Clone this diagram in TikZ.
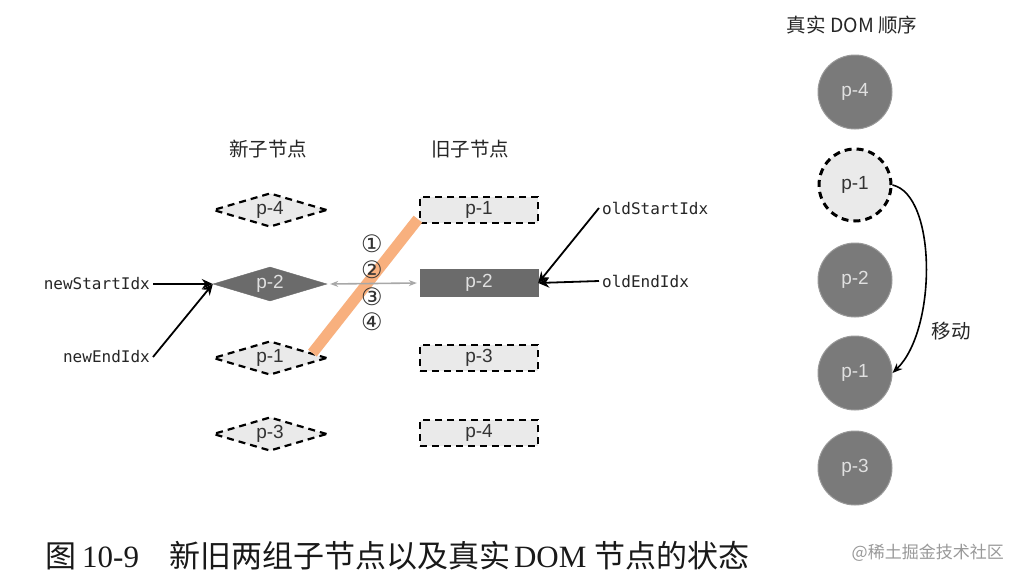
\documentclass[tikz,border=0pt]{standalone}
\usepackage{fontspec}
\setmainfont{Liberation Sans}
\newfontfamily\cjk{Noto Sans CJK SC}
\newfontfamily\monof{DejaVu Sans Mono}
\newfontfamily\dvs{DejaVu Sans}
\newfontfamily\serf{Liberation Serif}
\usetikzlibrary{shapes.geometric,arrows.meta,calc}
\definecolor{lightfill}{HTML}{EAEAEA}
\definecolor{darkfill}{HTML}{6B6B6B}
\definecolor{circfill}{HTML}{7A7A7A}
\definecolor{orangeline}{HTML}{F8B07E}
\definecolor{grayarrow}{HTML}{A8A8A8}
\definecolor{txtdark}{HTML}{333333}
\definecolor{txtlight}{HTML}{E0E0E0}
\tikzset{
  dashline/.style={draw=black, line width=2.2pt, dash pattern=on 7pt off 5pt},
  newdia/.style={diamond, inner sep=0pt, minimum width=114pt, minimum height=34pt, aspect=3.3,
     fill=lightfill, dashline, text=txtdark, font=\fontsize{19}{19}\selectfont},
  newdiadark/.style={diamond, inner sep=0pt, minimum width=114pt, minimum height=34pt, aspect=3.3,
     fill=darkfill, draw=darkfill, text=txtlight, font=\fontsize{19}{19}\selectfont},
  oldbox/.style={rectangle, inner sep=0pt, minimum width=118pt, minimum height=26pt,
     fill=lightfill, dashline, text=txtdark, font=\fontsize{19}{19}\selectfont},
  oldboxdark/.style={rectangle, inner sep=0pt, minimum width=118pt, minimum height=27pt,
     fill=darkfill, draw=darkfill, text=txtlight, font=\fontsize{19}{19}\selectfont},
  domcirc/.style={circle, inner sep=0pt, minimum size=74pt, fill=circfill, draw=gray!80,
     line width=1pt, text=txtlight, font=\fontsize{19}{19}\selectfont},
  domcircdash/.style={circle, inner sep=0pt, minimum size=72pt, fill=lightfill,
     draw=black, line width=3pt, dash pattern=on 7pt off 5pt, text=txtdark, font=\fontsize{19}{19}\selectfont},
  idxlabel/.style={inner sep=3pt, font=\monof\fontsize{16}{16}\selectfont, text=black!85},
  cjklabel/.style={inner sep=0pt, font=\cjk\fontsize{19.5}{19.5}\selectfont, text=black!85},
  idxarrow/.style={draw=black, line width=1.8pt, -{Stealth[length=11pt,width=10pt]}},
  circnum/.style={inner sep=0pt, font=\dvs\fontsize{24}{24}\selectfont, text=black!80},
}
\begin{document}
\begin{tikzpicture}[x=1pt,y=-1pt]
\useasboundingbox[fill=white] (0,0) rectangle (1018,581);

% headers
\node[cjklabel] (hnew) at (268,149) {新子节点};
\node[cjklabel] (hold) at (470,149) {旧子节点};
\node[cjklabel] (hdom) at (852,25) {真实 DOM 顺序};

% new children
\node[newdia] (n4) at (270,210) {p-4};
\node[newdiadark] (n2) at (270,284) {p-2};
\node[newdia] (n1) at (270,358) {p-1};
\node[newdia] (n3) at (270,434) {p-3};

% old children
\node[oldbox] (o1) at (479,210) {p-1};
\node[oldboxdark] (o2) at (479,283) {p-2};
\node[oldbox] (o3) at (479,358) {p-3};
\node[oldbox] (o4) at (479,433) {p-4};

% orange line
\coordinate (ostart) at ($(o1.south west)+(-1,-5)$);
\coordinate (oe) at ($(n1.east)!0.27!(n1.north)$);
\draw[orangeline, line width=11pt] (ostart) -- (oe);

% gray double arrow
\draw[grayarrow, line width=1.6pt, {Stealth[length=8pt,width=6pt]}-{Stealth[length=8pt,width=6pt]}]
  ([xshift=3pt]n2.east) -- ([xshift=-3pt]o2.west);

% circled numbers
\node[circnum] (c1) at (372,244) {①};
\node[circnum] (c2n) at (372,270) {②};
\node[circnum] (c3n) at (372,297) {③};
\node[circnum] (c4n) at (372,322) {④};

% index labels
\node[idxlabel, anchor=east] (ns) at (153,284) {newStartIdx};
\node[idxlabel, anchor=east] (ne) at (153,357) {newEndIdx};
\node[idxlabel, anchor=west] (os) at (599,208) {oldStartIdx};
\node[idxlabel, anchor=west] (oe2) at (599,281) {oldEndIdx};

\draw[idxarrow] (ns.east) -- (n2.west);
\draw[idxarrow] (ne.east) -- (n2.west);
\draw[idxarrow] (os.west) -- (o2.east);
\draw[idxarrow] (oe2.west) -- (o2.east);

% real DOM
\node[domcirc] (d1) at (855,92) {p-4};
\node[domcircdash] (d2) at (855,185) {p-1};
\node[domcirc] (d3) at (855,280) {p-2};
\node[domcirc] (d4) at (855,373) {p-1};
\node[domcirc] (d5) at (855,468) {p-3};

\draw[black, line width=1.6pt, -{Stealth[length=10pt,width=8pt]}]
  (d2.east) .. controls (937,195) and (937,330) .. (d4.east);
\node[cjklabel] (mv) at (951,331) {移动};

% caption
\node[anchor=west, inner sep=0pt, text=black!90] (cap) at (45,556)
  {\cjk\fontsize{31}{31}\selectfont 图\hspace{6pt}{\serf 10-9}\hspace{30pt}新旧两组子节点以及真实\hspace{4pt}{\serf DOM}\hspace{8pt}节点的状态};
\node[anchor=east, inner sep=0pt, text=black!40] (wm) at (1004,553)
  {\cjk\fontsize{17}{17}\selectfont @稀土掘金技术社区};
\end{tikzpicture}
\end{document}
